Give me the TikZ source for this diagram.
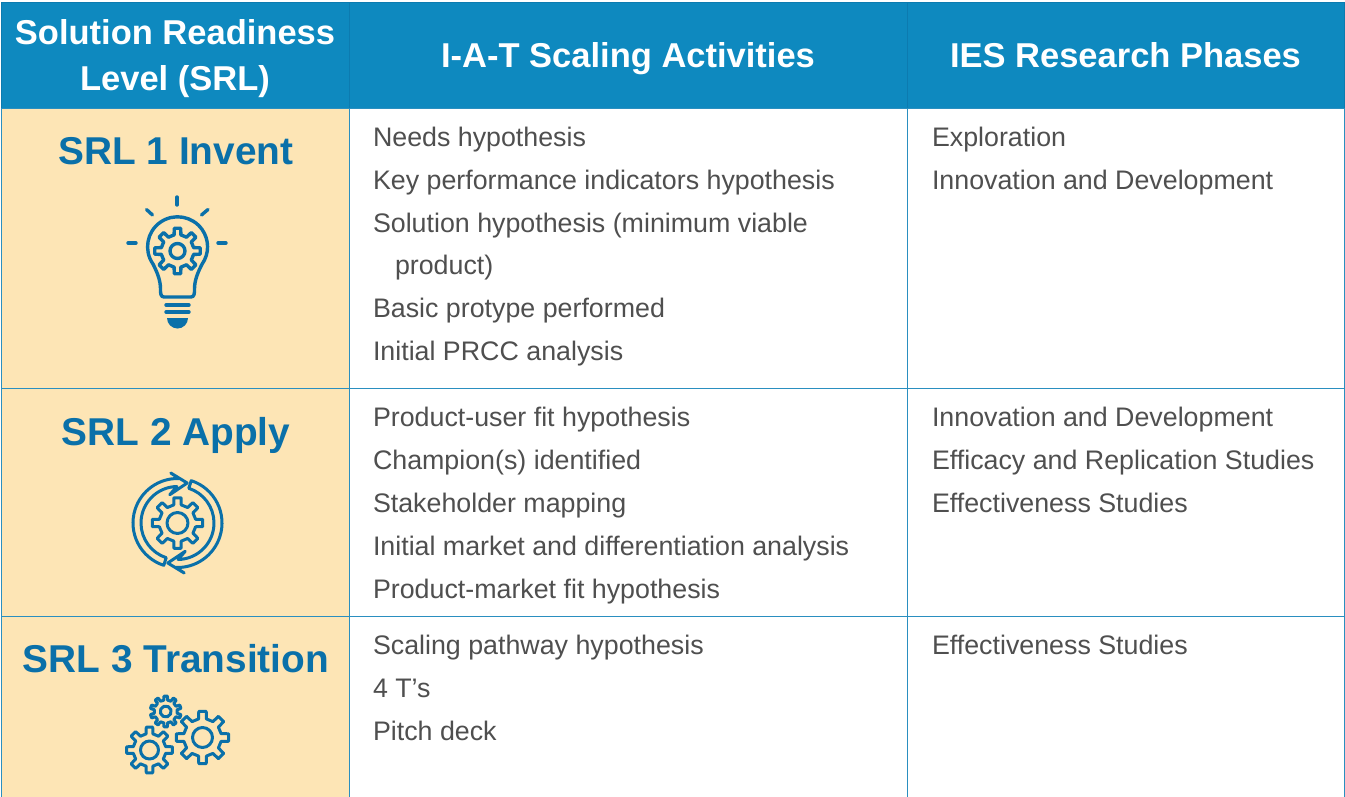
\documentclass[tikz,border=0pt]{standalone}
\usepackage{fontspec}
\setmainfont{Liberation Sans}
\usetikzlibrary{positioning}

\definecolor{headblue}{HTML}{0E89BF}
\definecolor{headrule}{HTML}{0C7BB0}
\definecolor{ruleblue}{HTML}{2A8FC0}
\definecolor{titleblue}{HTML}{0A70A9}
\definecolor{cellsand}{HTML}{FDE5B5}
\definecolor{bodygray}{HTML}{4F4F4F}

% centre, outer radius, root radius, hole radius, teeth, rotation
\newcommand{\gearicon}[6]{%
  \pgfmathsetmacro\gearstep{360/#5}
  \draw[iconline, shift={(#1)}, rotate=#6] (0,0) circle (#4)
    ({\gearstep-.26*\gearstep}:#3)
    \foreach \t in {1,...,#5} {
      -- ({\t*\gearstep-.26*\gearstep}:#3) -- ({\t*\gearstep-.18*\gearstep}:#2)
      -- ({\t*\gearstep+.18*\gearstep}:#2) -- ({\t*\gearstep+.26*\gearstep}:#3)
    } -- cycle;
}
\newcommand{\cyclearrow}[2]{%
  \draw[iconline, shift={(#1)}, rotate=#2] (252:44.5) arc[start angle=252, end angle=88, radius=44.5]
    -- (-6.7,50) -- (9.7,40) -- (-7.7,28.3) -- (91:36.5)
    arc[start angle=91, end angle=252, radius=36.5] -- cycle;
}

\begin{document}
\begin{tikzpicture}[x=1pt, y=1pt, node distance=0pt,
    every node/.style={inner sep=0pt, outer sep=0pt},
    iconline/.style={draw=titleblue, line width=3pt, line join=round, line cap=round},
    headcell/.style={draw=headrule, line width=.8pt, fill=headblue, minimum height=106pt},
    headtext/.style={text=white, align=center, font=\fontsize{34.5}{46}\selectfont\bfseries},
    srlcell/.style={draw=ruleblue, line width=.8pt, fill=cellsand, minimum width=348pt},
    bodycell/.style={draw=ruleblue, line width=.8pt, fill=white},
    srltitle/.style={text=titleblue, xshift=1pt, font=\fontsize{38.8}{46}\selectfont\bfseries},
    bodytext/.style={text=bodygray, align=left, font=\fontsize{26.8}{42.8}\selectfont}]
  \useasboundingbox (0,0) rectangle (1345,-796);
  \clip (0,0) rectangle (1345,-796);

  % header row
  \node[headcell, minimum width=348pt, anchor=north west] (srlhead) at (1,-2) {};
  \node[headcell, minimum width=558pt, right=of srlhead] (iathead) {};
  \node[headcell, minimum width=437pt, right=of iathead] (ieshead) {};
  \node[headtext, below=17pt of srlhead.north] (srlheadtext) {Solution Readiness\\Level (SRL)};
  \node[headtext, below=40pt of iathead.north] (iatheadtext) {I-A-T Scaling Activities};
  \node[headtext, below=40pt of ieshead.north] (iesheadtext) {IES Research Phases};

  % cells
  \node[srlcell, minimum height=280pt, below=of srlhead] (srlone) {};
  \node[srlcell, minimum height=228pt, below=of srlone] (srltwo) {};
  \node[srlcell, minimum height=182pt, below=of srltwo] (srlthree) {};
  \node[bodycell, minimum width=558pt, minimum height=280pt, right=of srlone] (iatone) {};
  \node[bodycell, minimum width=558pt, minimum height=228pt, right=of srltwo] (iattwo) {};
  \node[bodycell, minimum width=558pt, minimum height=182pt, right=of srlthree] (iatthree) {};
  \node[bodycell, minimum width=437pt, minimum height=280pt, right=of iatone] (iesone) {};
  \node[bodycell, minimum width=437pt, minimum height=228pt, right=of iattwo] (iestwo) {};
  \node[bodycell, minimum width=437pt, minimum height=182pt, right=of iatthree] (iesthree) {};

  % first column titles
  \node[srltitle, below=29pt of srlone.north] (srlonetitle) {SRL 1 Invent};
  \node[srltitle, below=29pt of srltwo.north] (srltwotitle) {SRL 2 Apply};
  \node[srltitle, below=28pt of srlthree.north] (srlthreetitle) {SRL 3 Transition};

  % cell texts
  \node[bodytext, below right=19pt and 24pt of iatone.north west] (iatonetext) {Needs hypothesis\\Key performance indicators hypothesis\\Solution hypothesis (minimum viable\\\hspace*{22pt}product)\\Basic protype performed\\Initial PRCC analysis};
  \node[bodytext, below right=19.5pt and 24pt of iattwo.north west] (iattwotext) {Product-user fit hypothesis\\Champion(s) identified\\Stakeholder mapping\\Initial market and differentiation analysis\\Product-market fit hypothesis};
  \node[bodytext, below right=19.5pt and 24pt of iatthree.north west] (iatthreetext) {Scaling pathway hypothesis\\4 T’s\\Pitch deck};
  \node[bodytext, below right=19pt and 25pt of iesone.north west] (iesonetext) {Exploration\\Innovation and Development};
  \node[bodytext, below right=19.5pt and 25pt of iestwo.north west] (iestwotext) {Innovation and Development\\Efficacy and Replication Studies\\Effectiveness Studies};
  \node[bodytext, below right=19.5pt and 25pt of iesthree.north west] (iesthreetext) {Effectiveness Studies};

  % light bulb
  \begin{scope}[iconline/.append style={line width=3.4pt}]
    \gearicon{177.5,-251}{23}{16.5}{7.5}{8}{0}
    \draw[iconline] (164,-297) .. controls (160.5,-297) and (160.5,-293) .. (160.5,-289)
      .. controls (160.5,-280) and (157,-272) .. (153,-264)
      arc[start angle=215, end angle=-35, radius=30]
      .. controls (198,-272) and (194.5,-280) .. (194.5,-289)
      .. controls (194.5,-293) and (194.5,-297) .. (191,-297) -- cycle;
    \draw[iconline] (166,-305) -- (189,-305);
    \draw[iconline] (166,-312) -- (189,-312);
    \fill[titleblue] (167,-318) arc[start angle=180, end angle=360, radius=10.5] -- cycle;
    \draw[iconline] (177,-197) -- (177,-205);
    \draw[iconline] (128,-243) -- (136,-243);
    \draw[iconline] (218,-243) -- (226,-243);
    \draw[iconline] (146.5,-209.5) -- (152.5,-215);
    \draw[iconline] (208,-209.5) -- (201.5,-215);
  \end{scope}

  % cycle of gear
  \gearicon{177.5,-523}{25.5}{18.5}{10.5}{8}{0}
  \cyclearrow{177.5,-523}{0}
  \cyclearrow{177.5,-523}{180}

  % three gears
  \gearicon{165.7,-711.5}{15.5}{11.5}{5.5}{10}{18}
  \gearicon{149.5,-750}{23}{16.5}{9}{8}{0}
  \gearicon{202.5,-737.5}{26.5}{19}{10}{8}{0}
\end{tikzpicture}
\end{document}
